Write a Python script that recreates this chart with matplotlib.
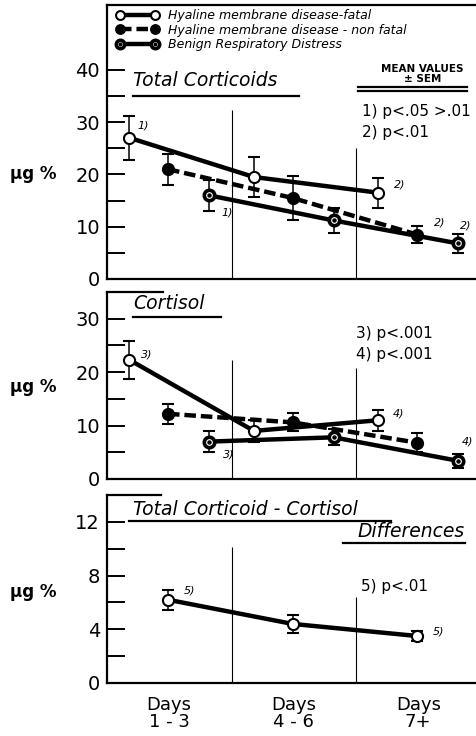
import numpy as np
import matplotlib
matplotlib.use("Agg")
import matplotlib.pyplot as plt
from matplotlib.ticker import MultipleLocator, FixedLocator

plt.rcParams['font.family'] = ['DejaVu Sans']

# series names (legend)
series = ['Hyaline membrane disease-fatal',
          'Hyaline membrane disease - non fatal',
          'Benign Respiratory Distress']
day_labels = ['Days\n1 - 3', 'Days\n4 - 6', 'Days\n7+']

# Total corticoids, ug % (mean, sem)
total_fatal = [27.0, 19.5, 16.5]
total_fatal_sem = [4.2, 3.8, 2.9]
total_nonfatal = [21.0, 15.5, 8.5]
total_nonfatal_sem = [3.0, 4.2, 1.7]
total_benign = [16.0, 11.2, 6.8]
total_benign_sem = [2.9, 2.4, 1.8]

# Cortisol, ug %
cort_fatal = [22.3, 9.0, 11.0]
cort_fatal_sem = [3.6, 2.0, 2.0]
cort_nonfatal = [12.2, 10.6, 6.8]
cort_nonfatal_sem = [1.9, 1.7, 1.8]
cort_benign = [7.0, 7.8, 3.4]
cort_benign_sem = [2.0, 1.5, 1.3]

# Total corticoid - cortisol differences (fatal)
diff_fatal = [6.2, 4.4, 3.5]
diff_fatal_sem = [0.75, 0.7, 0.4]

# significance notes: (series index, point index, text)
total_notes = [(0, 0, '1)'), (2, 0, '1)'), (0, 2, '2)'), (1, 2, '2)'), (2, 2, '2)')]
cort_notes = [(0, 0, '3)'), (2, 0, '3)'), (0, 2, '4)'), (2, 2, '4)')]
diff_notes = [(0, 0, '5)'), (0, 2, '5)')]
total_p = '1) p<.05 >.01\n2) p<.01'
cort_p = '3) p<.001\n4) p<.001'
diff_p = '5) p<.01'

# layout
days = np.arange(3)
offsets = [0.18, 0.49, 0.82]
note_off = {  # offset points of note labels per (series, point)
    'total': [(6, 9), (9, -12), (11, 6), (12, 9), (1, 13)],
    'cort': [(8, 4), (10, -9), (10, 5), (3, 14)],
    'diff': [(11, 7), (11, 3)],
}

fig = plt.figure(figsize=(4.76, 7.36), dpi=100)
W, H = 476.0, 736.0
x0 = 107
xmax = (476 - 107) / 124.5


def make_ax(top, bottom, ymax):
    ax = fig.add_axes([x0 / W, (H - bottom) / H, (W - x0) / W, (bottom - top) / H])
    ax.set_xlim(0, xmax)
    ax.set_ylim(0, ymax)
    ax.spines['right'].set_visible(False)
    for s in ['left', 'bottom', 'top']:
        ax.spines[s].set_linewidth(1.6)
    ax.tick_params(axis='y', which='both', direction='in', length=13, width=1.4,
                   labelsize=14, pad=5)
    ax.set_xticks([])
    return ax


style_open = dict(color='black', marker='o', ms=8, mfc='white', mec='black', mew=1.5)
style_fill = dict(color='black', marker='o', ms=8.5, mfc='black', mec='black')
style_benign = dict(color='black', marker='o', ms=7.5, mfc='white', mec='black', mew=2.6)


def draw(ax, vals, sems, xs, style, ls='-', label=None):
    ax.errorbar(xs, vals, yerr=sems, fmt='none', ecolor='black', elinewidth=1.1,
                capsize=4.5, capthick=1.5, zorder=2)
    line, = ax.plot(xs, vals, ls=ls, lw=3.2, zorder=3, label=label, **style)
    if ls == '--':
        line.set_dashes((2.6, 1.1))
    return line


def benign_dots(ax, xs, vals):
    return ax.plot(xs, vals, ls='none', marker='o', ms=2.2, color='black', zorder=4)[0]


def notes(ax, data_x, data_y, note_list, offs):
    for (si, pi, txt), (dx, dy) in zip(note_list, offs):
        ax.annotate(txt, (data_x[si][pi], data_y[si][pi]), xytext=(dx, dy),
                    textcoords='offset points', fontsize=8, style='italic',
                    ha='left', va='center')


def uline(ax, x1, x2, y):
    ax.plot([x1, x2], [y, y], color='black', lw=1.6, transform=ax.get_yaxis_transform(),
            clip_on=False)


xs_f = days + offsets[0]
xs_n = days + offsets[1]
xs_b = days + offsets[2]

# ---- panel 1: total corticoids
ax1 = make_ax(5, 279, 52.4)
ax1.set_yticks([0, 10, 20, 30, 40])
ax1.yaxis.set_minor_locator(FixedLocator([5, 15, 25, 35]))
ax1.vlines(1, 0, 32.3, color='black', lw=0.8)
ax1.vlines(2, 0, 25, color='black', lw=0.8)
l1 = draw(ax1, total_fatal, total_fatal_sem, xs_f, style_open, label=series[0])
l2 = draw(ax1, total_nonfatal, total_nonfatal_sem, xs_n, style_fill, ls='--', label=series[1])
l3 = draw(ax1, total_benign, total_benign_sem, xs_b, style_benign, label=series[2])
d3 = benign_dots(ax1, xs_b, total_benign)
notes(ax1, [xs_f, xs_n, xs_b], [total_fatal, total_nonfatal, total_benign],
      total_notes, note_off['total'])
ax1.text(0.07, 36.2, 'Total Corticoids', transform=ax1.get_yaxis_transform(),
         fontsize=13.5, style='italic', ha='left', va='bottom')
uline(ax1, 0.07, 0.52, 35.0)
ax1.text(0.855, 40.2, 'MEAN VALUES', transform=ax1.get_yaxis_transform(),
         fontsize=7.5, ha='center', va='center', weight='bold')
ax1.text(0.855, 38.3, '± SEM', transform=ax1.get_yaxis_transform(),
         fontsize=7.5, ha='center', va='center', weight='bold')
uline(ax1, 0.68, 0.975, 36.7)
uline(ax1, 0.68, 0.975, 36.0)
ax1.text(0.69, 30.0, total_p, transform=ax1.get_yaxis_transform(),
         fontsize=11, ha='left', va='center', linespacing=1.45)
leg = ax1.legend(handles=[l1, l2, (l3, d3)], labels=series, loc='upper left',
                 bbox_to_anchor=(0.026, 0.984), frameon=False,
                 prop=dict(style='italic', size=9), handlelength=3.4,
                 handletextpad=0.75, labelspacing=0.1, borderpad=0, borderaxespad=0,
                 numpoints=2, markerscale=0.8)
ax1.annotate('μg %', (-0.2, 20), xycoords=ax1.get_yaxis_transform(), fontsize=12,
             weight='bold', ha='center', va='center')

# ---- panel 2: cortisol
ax2 = make_ax(292, 479, 35.0)
ax2.spines['top'].set_bounds(0, 0.45)
ax2.set_yticks([0, 10, 20, 30])
ax2.yaxis.set_minor_locator(FixedLocator([5, 15, 25]))
ax2.vlines(1, 0, 22.2, color='black', lw=0.8)
ax2.vlines(2, 0, 20.7, color='black', lw=0.8)
draw(ax2, cort_fatal, cort_fatal_sem, xs_f, style_open)
draw(ax2, cort_nonfatal, cort_nonfatal_sem, xs_n, style_fill, ls='--')
draw(ax2, cort_benign, cort_benign_sem, xs_b, style_benign)
benign_dots(ax2, xs_b, cort_benign)
notes(ax2, [xs_f, xs_n, xs_b], [cort_fatal, cort_nonfatal, cort_benign],
      cort_notes, note_off['cort'])
ax2.text(0.07, 31.0, 'Cortisol', transform=ax2.get_yaxis_transform(),
         fontsize=13.5, style='italic', ha='left', va='bottom')
uline(ax2, 0.07, 0.31, 30.4)
ax2.text(0.675, 25.3, cort_p, transform=ax2.get_yaxis_transform(),
         fontsize=11, ha='left', va='center', linespacing=1.45)
ax2.annotate('μg %', (-0.2, 17.2), xycoords=ax2.get_yaxis_transform(), fontsize=12,
             weight='bold', ha='center', va='center')

# ---- panel 3: differences
ax3 = make_ax(495, 683, 14.0)
ax3.spines['top'].set_bounds(0, 0.43)
ax3.set_yticks([0, 4, 8, 12])
ax3.yaxis.set_minor_locator(FixedLocator([2, 6, 10]))
ax3.vlines(1, 0, 10.1, color='black', lw=0.8)
ax3.vlines(2, 0, 6.4, color='black', lw=0.8)
draw(ax3, diff_fatal, diff_fatal_sem, xs_n, style_open)
notes(ax3, [xs_n], [diff_fatal], diff_notes, note_off['diff'])
ax3.text(0.07, 12.2, 'Total Corticoid - Cortisol', transform=ax3.get_yaxis_transform(),
         fontsize=13.5, style='italic', ha='left', va='bottom')
uline(ax3, 0.06, 0.77, 12.1)
ax3.text(0.97, 10.6, 'Differences', transform=ax3.get_yaxis_transform(),
         fontsize=13.5, style='italic', ha='right', va='bottom')
uline(ax3, 0.64, 0.97, 10.45)
ax3.text(0.688, 7.2, diff_p, transform=ax3.get_yaxis_transform(),
         fontsize=11, ha='left', va='center')
ax3.annotate('μg %', (-0.2, 6.8), xycoords=ax3.get_yaxis_transform(), fontsize=12,
             weight='bold', ha='center', va='center')
ax3.set_xticks(days + 0.5)
ax3.set_xticklabels(day_labels, fontsize=13, linespacing=0.95)
ax3.tick_params(axis='x', length=0, pad=9)

fig.savefig('out.png', dpi=100)
